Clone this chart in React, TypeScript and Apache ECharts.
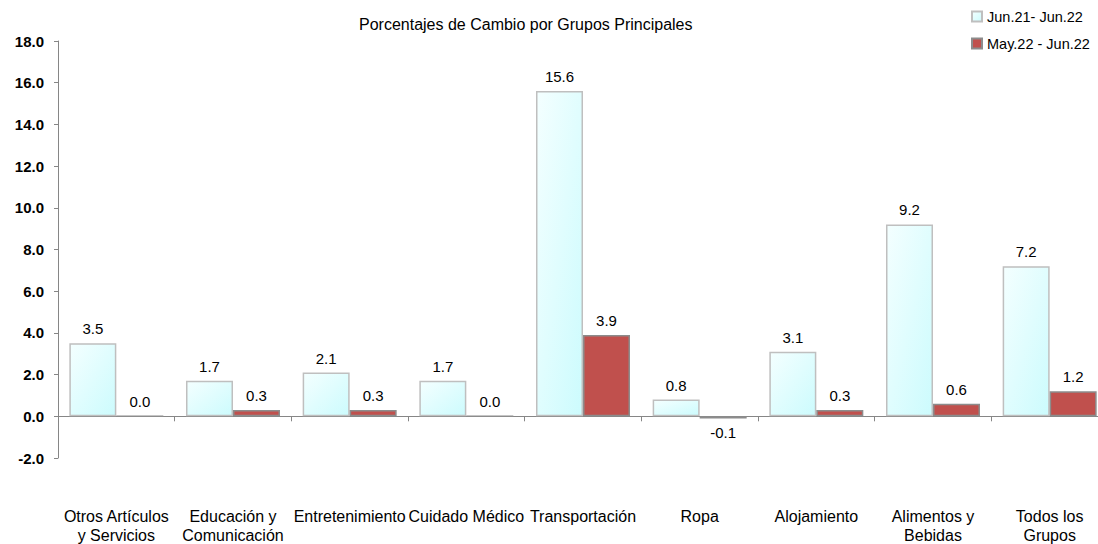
import React, { useEffect, useRef } from "react";
import * as echarts from "echarts";

const categories = [
  "Otros Artículos\ny Servicios",
  "Educación y\nComunicación",
  "Entretenimiento",
  "Cuidado Médico",
  "Transportación",
  "Ropa",
  "Alojamiento",
  "Alimentos y\nBebidas",
  "Todos los\nGrupos",
];
const seriesNames = ["Jun.21- Jun.22", "May.22 - Jun.22"];
const annual = [3.5, 1.7, 2.1, 1.7, 15.6, 0.8, 3.1, 9.2, 7.2];
const monthly = [0.0, 0.3, 0.3, 0.0, 3.9, -0.1, 0.3, 0.6, 1.2];
const title = "Porcentajes de Cambio por Grupos Principales";

const FONT = "'Liberation Sans', Arial, sans-serif";

export default function App() {
  const ref = useRef<HTMLDivElement>(null);
  useEffect(() => {
    if (!ref.current) return;
    const chart = echarts.init(ref.current, null, { renderer: "svg" });
    const labelFor = (v: number) => ({
      value: v,
      label: { position: v < 0 ? "bottom" : "top" },
    });
    const valueLabel = {
      show: true,
      distance: 7,
      fontFamily: FONT,
      fontSize: 15,
      color: "#000",
      formatter: (p: any) => Number(p.value).toFixed(1),
    };
    chart.setOption({
      animation: false,
      backgroundColor: "#ffffff",
      textStyle: { fontFamily: FONT },
      title: {
        text: title,
        left: 354,
        top: 11,
        textStyle: { fontFamily: FONT, fontSize: 16, fontWeight: "normal", color: "#000" },
      },
      legend: {
        orient: "vertical",
        left: 966,
        top: 4,
        itemWidth: 10,
        itemHeight: 10,
        itemGap: 12,
        icon: "rect",
        textStyle: { fontFamily: FONT, fontSize: 14.5, color: "#000" },
        data: seriesNames,
      },
      grid: {
        left: 58,
        right: -10,
        top: 41,
        bottom: 86,
        containLabel: false,
        outerBoundsMode: "none",
      },
      xAxis: {
        type: "category",
        data: categories,
        axisLine: { onZero: true, lineStyle: { color: "#868686", width: 1 } },
        axisTick: { show: true, length: 5, lineStyle: { color: "#868686" } },
        axisLabel: {
          margin: 49,
          interval: 0,
          fontFamily: FONT,
          fontSize: 16,
          color: "#000",
          lineHeight: 19,
          verticalAlign: "top",
        },
        splitLine: { show: false },
      },
      yAxis: {
        type: "value",
        min: -2,
        max: 18,
        interval: 2,
        axisLine: { show: true, lineStyle: { color: "#868686", width: 1 } },
        axisTick: { show: true, length: 4, lineStyle: { color: "#868686" } },
        axisLabel: {
          margin: 14,
          fontFamily: FONT,
          fontSize: 15,
          fontWeight: "bold",
          color: "#000",
          formatter: (v: number) => v.toFixed(1),
        },
        splitLine: { show: false },
      },
      series: [
        {
          name: seriesNames[0],
          type: "bar",
          barWidth: 47,
          barGap: "0%",
          data: annual.map(labelFor),
          itemStyle: {
            color: new echarts.graphic.LinearGradient(0, 0, 1, 1, [
              { offset: 0, color: "#F4FFFF" },
              { offset: 1, color: "#CCFBFD" },
            ]),
            borderColor: "#BFBFBF",
            borderWidth: 1.5,
          },
          label: valueLabel,
        },
        {
          name: seriesNames[1],
          type: "bar",
          barWidth: 47,
          barGap: "0%",
          data: monthly.map(labelFor),
          itemStyle: {
            color: "#C0504D",
            borderColor: "#8C8C8C",
            borderWidth: 1.5,
          },
          label: valueLabel,
        },
      ],
    });
    return () => chart.dispose();
  }, []);
  return (
    <div
      ref={ref}
      style={{ position: "absolute", left: 0, top: 0, width: 1098, height: 544 }}
    />
  );
}
